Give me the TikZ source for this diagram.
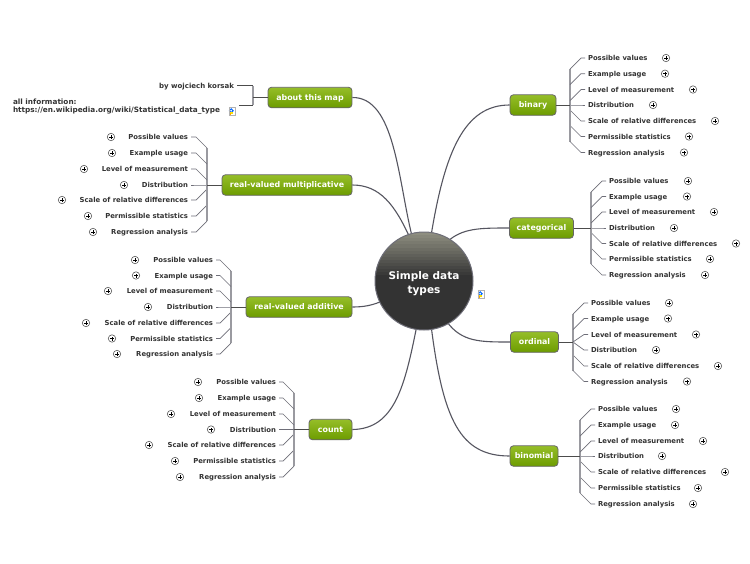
\documentclass[tikz,border=0pt]{standalone}
\usepackage{fontspec}
\setmainfont{DejaVu Sans}
\usetikzlibrary{calc}
\definecolor{txt}{HTML}{333333}
\definecolor{busc}{HTML}{9A9AA0}
\definecolor{linkc}{HTML}{6E6E78}
\definecolor{mainc}{HTML}{555560}
\definecolor{gtop}{HTML}{96BE28}
\definecolor{gbot}{HTML}{6C9C00}
\definecolor{hublight}{HTML}{8E8E80}
\definecolor{hubdark}{HTML}{333333}
\tikzset{
  x=1pt,y=-1pt,
  leaf/.style={inner sep=0pt,outer sep=3pt,font=\bfseries\fontsize{6.85}{8}\selectfont,text=txt,text height=5pt,text depth=0pt},
  topic/.style={draw=black!60,line width=0.8pt,rounded corners=3.5pt,top color=gtop,bottom color=gbot,inner sep=0pt,minimum height=20.5pt,font=\bfseries\fontsize{7.9}{9}\selectfont,text=white,text height=5.5pt,text depth=0pt},
  plusicon/.style={circle,draw=black!65,line width=0.6pt,fill=white,inner sep=0pt,minimum size=7.4pt,
    path picture={\draw[black,line width=0.9pt] ([xshift=-2pt]path picture bounding box.center)--([xshift=2pt]path picture bounding box.center);
      \draw[black,line width=0.9pt] ([yshift=-2pt]path picture bounding box.center)--([yshift=2pt]path picture bounding box.center);}},
  pagebox/.style={draw=black!30,fill=white,line width=0.4pt,inner sep=0pt,minimum width=6.5pt,minimum height=8pt,
    path picture={\draw[blue!60!cyan,line width=1pt] ([xshift=-0.8pt,yshift=0.3pt]path picture bounding box.center) circle (1.9pt);
      \fill[yellow!85!orange] ([xshift=-3.4pt,yshift=-0.5pt]path picture bounding box.center) rectangle ([xshift=0.8pt,yshift=-3.2pt]path picture bounding box.center);
      \fill[orange!70!yellow] ([xshift=-3.4pt,yshift=-2.4pt]path picture bounding box.center) rectangle ([xshift=-1pt,yshift=-4pt]path picture bounding box.center);}},
  hubc/.style={circle,draw=linkc,line width=1pt,inner sep=0pt,minimum size=98pt,align=center,
    font=\bfseries\fontsize{10.5}{14}\selectfont,text=white,
    path picture={
      \fill[hubdark] (path picture bounding box.south west) rectangle (path picture bounding box.north east);
      \foreach \k in {0,...,14}{
        \pgfmathsetmacro\m{100-\k*100/14}
        \fill[hublight!\m!hubdark] ($(path picture bounding box.north west)+(0,-\k*3.1pt)$) rectangle ($(path picture bounding box.north east)+(0,-\k*3.1pt-3.2pt)$);
      }
    }},
  mainlink/.style={draw=mainc,line width=1.1pt},
  buslink/.style={draw=busc,line width=1.2pt},
  sublink/.style={draw=linkc,line width=0.7pt,line join=round},
}
% #1 name, #2 dir, #3 leaf x, #4 bus x, #5 centre y, #6 items y/label/plus x
\newcommand\branchset[6]{
  \coordinate (#1-bus) at (#4,#5);
  \foreach \yy/\lab/\px [count=\i] in {#6}{
    \pgfmathsetmacro\dy{\yy-#5}
    \pgfmathsetmacro\sy{abs(\dy)>11?\yy-11*sign(\dy):#5}
    \ifnum#2>0
      \node[leaf,anchor=west] (#1-\i) at (#3-3,\yy) {\lab};
    \else
      \node[leaf,anchor=east] (#1-\i) at (#3+3,\yy) {\lab};
    \fi
    \node[plusicon] (#1-p\i) at (\px,\yy) {};
    \coordinate (#1-b\i) at (#4,\sy);
    \coordinate (#1-k\i) at (#4+11*#2,\yy);
    \draw[buslink] (#1-bus) -- (#1-b\i);
    \draw[sublink] (#1-b\i) -- (#1-k\i) -- (#1-\i.\ifnum#2>0 west\else east\fi);
  }
  \draw[sublink,draw=black!70,line width=0.9pt] (#1.\ifnum#2>0 east\else west\fi) -- (#1-bus);
}
\begin{document}
\begin{tikzpicture}
\useasboundingbox (0,0) rectangle (750,563);
\fill[white] (0,0) rectangle (750,563);
% topics
\node[topic,minimum width=84pt] (about) at (310,97.5) {about this map};
\node[topic,minimum width=130pt] (mult) at (287,185) {real-valued multiplicative};
\node[topic,minimum width=106pt] (addi) at (299,307) {real-valued additive};
\node[topic,minimum width=43pt] (count) at (330.5,429.5) {count};
\node[topic,minimum width=46pt] (binary) at (533,105) {binary};
\node[topic,minimum width=64pt] (categ) at (541.5,228) {categorical};
\node[topic,minimum width=48pt] (ordin) at (534.5,342) {ordinal};
\node[topic,minimum width=48pt] (binom) at (534,456) {binomial};
% main links
\draw[mainlink] (about.east) .. controls (395,97) and (398,180) .. (412,236);
\draw[mainlink] (mult.east) .. controls (380,185) and (395,205) .. (410,238);
\draw[mainlink] (addi.east) .. controls (365,307) and (372,305) .. (380,302);
\draw[mainlink] (count.east) .. controls (395,429) and (405,385) .. (417,325);
\draw[mainlink] (binary.west) .. controls (465,105) and (445,150) .. (431,236);
\draw[mainlink] (categ.west) .. controls (480,228) and (462,228) .. (447,242);
\draw[mainlink] (ordin.west) .. controls (480,342) and (462,342) .. (447,322);
\draw[mainlink] (binom.west) .. controls (460,456) and (443,420) .. (431,325);
% hub
\node[hubc] (hub) at (424,281) {\rule{0pt}{12.5pt}Simple data\\types};
\node[pagebox] (hubpage) at (481,294) {};
% about
\node[leaf,anchor=east,font=\bfseries\fontsize{7}{8}\selectfont] (by) at (237,85.5) {by wojciech korsak};
\node[leaf,anchor=west,align=left,font=\bfseries\fontsize{7.3}{8.5}\selectfont,text height=,text depth=] (info) at (10,106.5) {all information:\\https://en.wikipedia.org/wiki/Statistical\_data\_type};
\node[pagebox] (infopage) at (232,111) {};
\coordinate (aj) at (253,97.5);
\coordinate (aby) at (253,85.5);
\coordinate (ain) at (253,105);
\coordinate (ainfo) at (239,105);
\draw[buslink] (aby) -- (ain);
\draw[draw=black!70,line width=0.9pt] (about.west) -- (aj);
\draw[sublink,draw=black!70] (by.east) -- (aby);
\draw[sublink,draw=black!70] (ain) -- (ainfo);
% branches
\branchset{binary}{1}{588}{570}{105}{58/Possible values/666,73.7/Example usage/665,89.5/Level of measurement/693,105/Distribution/653,121/Scale of relative differences/715,136.5/Permissible statistics/689,152.5/Regression analysis/684}
\branchset{categ}{1}{609}{591}{228}{181/Possible values/688,196.5/Example usage/687,212/Level of measurement/714,228/Distribution/674,243.5/Scale of relative differences/736,259/Permissible statistics/710,275/Regression analysis/705}
\branchset{ordin}{1}{591}{573}{342}{303/Possible values/669,318.5/Example usage/668,334.5/Level of measurement/696,350/Distribution/656,366/Scale of relative differences/718,381.5/Regression analysis/687}
\branchset{binom}{1}{598}{580}{456}{409/Possible values/676,425/Example usage/675,441/Level of measurement/703,456/Distribution/662,472/Scale of relative differences/725,488/Permissible statistics/698,504/Regression analysis/693}
\branchset{mult}{-1}{188}{207}{185}{137/Possible values/111,153/Example usage/112,169/Level of measurement/84,185/Distribution/124,200/Scale of relative differences/62,216/Permissible statistics/88,232/Regression analysis/93}
\branchset{addi}{-1}{213}{231}{307}{260/Possible values/135,275.5/Example usage/136,291/Level of measurement/108,307/Distribution/148,323/Scale of relative differences/86,338.5/Permissible statistics/112,354/Regression analysis/117}
\branchset{count}{-1}{276}{294}{429.5}{382/Possible values/198,398/Example usage/199,414/Level of measurement/171,429.5/Distribution/211,445/Scale of relative differences/149,461/Permissible statistics/175,477/Regression analysis/180}
\end{tikzpicture}
\end{document}
